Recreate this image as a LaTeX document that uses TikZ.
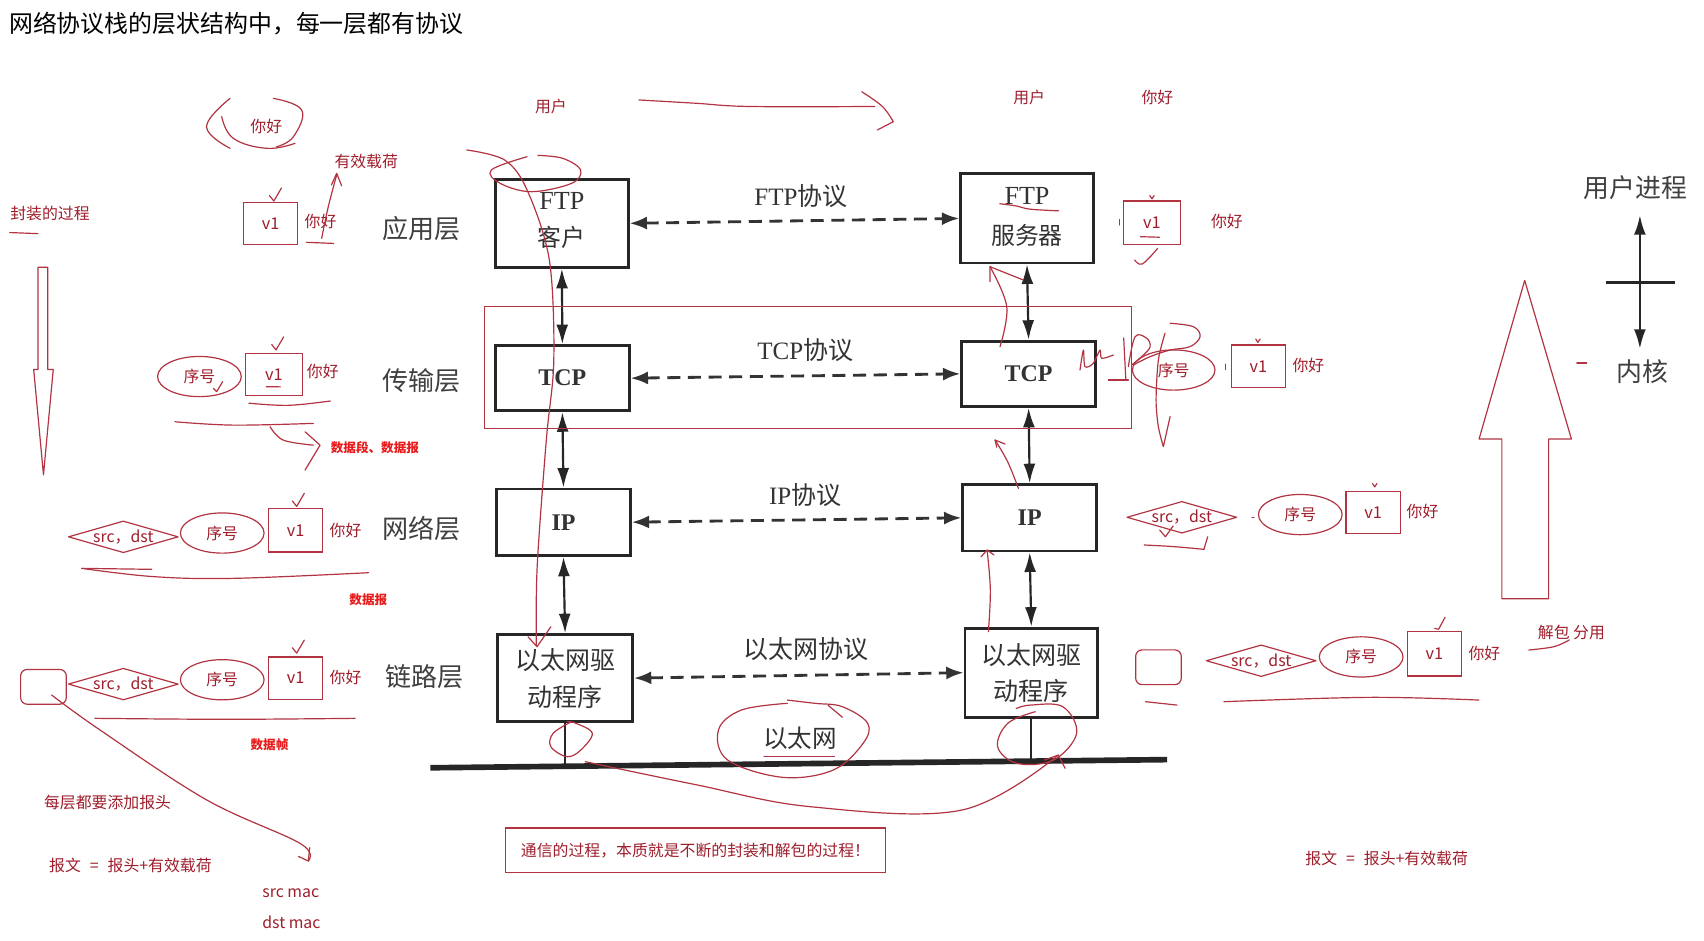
\documentclass[tikz,border=0pt]{standalone}
\usepackage{fontspec}
\setmainfont{Noto Sans CJK SC}
\newfontfamily\tms{Liberation Serif}
\usetikzlibrary{arrows.meta,shapes.geometric}
\definecolor{ink}{RGB}{178,52,66}
\definecolor{inktext}{RGB}{158,30,44}
\definecolor{brightred}{RGB}{232,28,28}
\newcommand\mydia[3]{\node[diabox] (#1) at (#2,#3) {src，dst};
  \draw[ink] (#1.west) -- (#1.north) -- (#1.east) -- (#1.south) -- cycle;}
\newcommand\mychk[2]{\draw[ink,shift={(#1,#2)}] (-4,-5) -- (0,0) -- (7,-12);}
\begin{document}
\begin{tikzpicture}[x=0.5pt,y=-0.5pt,
  ink/.style={draw=ink, line width=0.55pt, line cap=round, line join=round},
  rtext/.style={text=inktext, font=\fontsize{7.3}{9}\selectfont, inner sep=1pt},
  redlbl/.style={text=brightred, font=\bfseries\fontsize{5.8}{7}\selectfont, inner sep=1pt},
  stackbox/.style={draw=black!85, line width=1.3pt, inner sep=0pt, align=center, text=black!80},
  boxtext/.style={text=black!80, inner sep=0pt},
  layer/.style={font=\fontsize{12}{14}\selectfont, text=black!75, inner sep=1pt},
  proto/.style={font=\fontsize{11.5}{13}\selectfont, text=black!80, inner sep=1pt},
  dbl/.style={{Latex[length=9pt,width=5.5pt]}-{Latex[length=9pt,width=5.5pt]}, line width=1pt, draw=black!85},
  dsh/.style={{Latex[length=8pt,width=6pt]}-{Latex[length=8pt,width=6pt]}, line width=1.3pt, draw=black!80, dash pattern=on 6pt off 3.5pt},
  vone/.style={draw=ink, line width=0.55pt, minimum width=25pt, minimum height=19.5pt, inner sep=0pt, text=inktext, font=\fontsize{7.5}{9}\selectfont},
  seqell/.style={ellipse, draw=ink, line width=0.55pt, minimum width=38.5pt, minimum height=18.5pt, inner sep=0pt, text=inktext, font=\fontsize{7.3}{9}\selectfont},
  diabox/.style={rectangle, minimum width=50pt, minimum height=14pt, inner sep=0pt, text=inktext, font=\fontsize{7.3}{9}\selectfont},
  rrect/.style={draw=ink, line width=0.55pt, rounded corners=3pt, minimum width=21pt, minimum height=16pt, inner sep=0pt},
]
\useasboundingbox (0,0) rectangle (1568,865);
\fill[white] (0,0) rectangle (1568,865);

% title
\node[anchor=west, inner sep=0pt, font=\fontsize{11}{13}\selectfont] (title) at (8,22) {网络协议栈的层状结构中，每一层都有协议};

% ---------------- main stack diagram ----------------
\node[stackbox, minimum width=61pt, minimum height=40.5pt] (ftpc) at (517,205.5) {};
\node[boxtext, font=\tms\fontsize{12}{14}\selectfont] (ftpct1) at (517,185) {FTP};
\node[boxtext, font=\fontsize{11}{13}\selectfont] (ftpct2) at (517,218) {客户};
\node[stackbox, minimum width=61pt, minimum height=41pt] (ftps) at (945,201) {};
\node[boxtext, font=\tms\fontsize{12}{14}\selectfont] (ftpst1) at (945,180.5) {FTP};
\node[boxtext, font=\fontsize{11}{13}\selectfont] (ftpst2) at (945,216.5) {服务器};
\node[stackbox, minimum width=61.5pt, minimum height=30pt, font=\tms\bfseries\fontsize{11}{13}\selectfont] (tcpl) at (517.5,348) {TCP};
\node[stackbox, minimum width=61.5pt, minimum height=30pt, font=\tms\bfseries\fontsize{11}{13}\selectfont] (tcpr) at (946.5,344) {TCP};
\node[stackbox, minimum width=61.5pt, minimum height=30.5pt, font=\tms\bfseries\fontsize{11}{13}\selectfont] (ipl) at (518.5,480.5) {IP};
\node[stackbox, minimum width=61.5pt, minimum height=30.5pt, font=\tms\bfseries\fontsize{11}{13}\selectfont] (ipr) at (947.5,476.5) {IP};
\node[stackbox, minimum width=62pt, minimum height=40pt, font=\fontsize{11.5}{17}\selectfont] (ethl) at (520,624) {以太网驱\\动程序};
\node[stackbox, minimum width=61pt, minimum height=41pt, font=\fontsize{11.5}{16.5}\selectfont] (ethr) at (949,619) {以太网驱\\动程序};

\draw[dbl] (ftpc.south) -- (tcpl.north);
\draw[dbl] (tcpl.south) -- (ipl.north);
\draw[dbl] (ipl.south) -- (ethl.north);
\draw[dbl] (ftps.south) -- (tcpr.north);
\draw[dbl] (tcpr.south) -- (ipr.north);
\draw[dbl] (ipr.south) -- (ethr.north);

\draw[dsh] (ftpc.east) -- (ftps.west);
\draw[dsh] (tcpl.east) -- (tcpr.west);
\draw[dsh] (ipl.east) -- (ipr.west);
\draw[dsh] (ethl.east) -- (ethr.west);

\node[proto] (pftp) at (737,180) {{\tms FTP}协议};
\node[proto] (ptcp) at (741,322) {{\tms TCP}协议};
\node[proto] (pip) at (741,456) {{\tms IP}协议};
\node[proto] (peth) at (742,597) {以太网协议};

\node[layer] (lapp) at (388,210) {应用层};
\node[layer] (ltr) at (388,350) {传输层};
\node[layer] (lnet) at (388,486) {网络层};
\node[layer] (llink) at (391,623) {链路层};

\coordinate (busA) at (396,706.5);
\coordinate (busB) at (1074,699);
\draw[line width=2.6pt, draw=black!85] (busA) -- (busB);
\coordinate (dropL) at (520,705);
\coordinate (dropR) at (949,700.4);
\draw[line width=1pt, draw=black!85] (ethl.south) -- (dropL);
\draw[line width=1pt, draw=black!85] (ethr.south) -- (dropR);
\node[proto, font=\fontsize{11.3}{13}\selectfont] (ethnet) at (736,679) {以太网};

% user process / kernel
\node[layer, font=\fontsize{11.9}{14}\selectfont] (uproc) at (1505,173) {用户进程};
\node[layer, font=\fontsize{11.9}{14}\selectfont] (kern) at (1511,342) {内核};
\coordinate (ua) at (1509,198);
\coordinate (ub) at (1509,321);
\draw[dbl, line width=1.2pt] (ua) -- (ub);
\draw[line width=1.3pt, draw=black!85] (1478,260) -- (1541,260);

% ---------------- red annotations ----------------
\node[draw=ink, line width=0.6pt, minimum width=297.5pt, minimum height=56pt, inner sep=0pt] (tcpframe) at (743.5,338) {};

% top users
\node[rtext] (userL) at (507,98) {用户};
\node[rtext] (userR) at (947,90) {用户};
\node[rtext] (hiR) at (1065,90) {你好};
\draw[ink] plot[smooth, tension=0.6] coordinates {(588,92) (640,95) (690,98) (805,98)};
\draw[ink] plot[smooth, tension=0.6] coordinates {(793,84.4) (812,98) (822,112)} -- (807.4,119.6);

% left encapsulation column
\node[rtext] (hiTop) at (245,116) {你好};
\draw[ink] plot[smooth, tension=0.7] coordinates {(211.7,90.5) (190,116.6) (211.7,136.5)};
\draw[ink] plot[smooth, tension=0.7] coordinates {(251.5,90.5) (277.6,101.2) (270,125.8) (254.6,135)};
\draw[ink] plot[smooth, tension=0.7] coordinates {(204,107.3) (214.7,127.3) (245.4,136.5) (271.5,131.9)};

\node[rtext] (payload) at (337,149) {有效载荷};
\node[rtext] (encap) at (46,196) {封装的过程};
\draw[ink] (9,214) -- (35,215);
\draw[ink] (35,246) -- (44,246) -- (44,340) -- (49,340) -- (40,437) -- (31,340) -- (35,340) -- cycle;

% application layer packet (left)
\node[vone] (av1) at (249,205.5) {v1};
\node[rtext] (ahi) at (295,204) {你好};
\mychk{252}{185}
\draw[ink] plot[smooth, tension=0.6] coordinates {(296,219.3) (302.1,190.1) (309.8,161)};
\draw[ink] (305,170.2) -- (309.8,159.5) -- (314.4,171.1);
\draw[ink] (282,223) -- (307,224);

% transport layer packet (left)
\node[seqell] (tseq) at (183.5,346.5) {序号};
\node[vone, minimum width=26pt] (tv1) at (252,344.5) {v1};
\node[rtext] (thi) at (297,342) {你好};
\mychk{254}{322}
\draw[ink] (196.3,357.3) -- (199.4,360.4) -- (204.9,351.2);
\draw[ink] (245,355.8) -- (258,356);
\draw[ink] plot[smooth, tension=0.6] coordinates {(229,371) (265,373) (304,369)};
\draw[ink] plot[smooth, tension=0.6] coordinates {(161,388.1) (214.7,391.2) (288.3,389.6)};
\draw[ink] plot[smooth, tension=0.6] coordinates {(248.5,392.7) (260.7,405) (288.3,409.6)};
\draw[ink] (280.7,397.3) -- (294.5,409.6) -- (280.7,432.6);
\node[redlbl] (seglbl) at (345,412) {数据段、数据报};

% network layer packet (left)
\mydia{ndia}{113.5}{494}
\node[seqell] (nseq) at (204.5,490.5) {序号};
\node[vone, minimum height=20pt] (nv1) at (272,488) {v1};
\node[rtext] (nhi) at (318,488) {你好};
\mychk{273}{466}
\draw[ink] (75.2,523) -- (139.6,523.9);
\draw[ink] plot[smooth, tension=0.6] coordinates {(75.2,523) (141.1,530.6) (214.7,532.2) (339,527)};
\node[redlbl] (dglbl) at (339,552) {数据报};

% link layer packet (left)
\node[rrect] (lrr) at (40,632) {};
\mydia{ldia}{113.5}{629.5}
\node[seqell] (lseq) at (204.5,625.5) {序号};
\node[vone] (lv1) at (272,624) {v1};
\node[rtext] (lhi) at (318,623) {你好};
\mychk{273}{601}
\draw[ink] plot[smooth, tension=0.6] coordinates {(87.4,661) (208.6,661.9) (326.7,661)};
\node[redlbl] (frlbl) at (248,685) {数据帧};
\coordinate (macstart) at (47.5,639.5);
\coordinate (mactip) at (283.7,792.3);
\draw[ink] plot[smooth, tension=0.6] coordinates {(macstart) (92,671.7) (190.2,736.1) (276,776) (mactip)};
\draw[ink] (274.5,788) -- (mactip) -- (285,780);

\node[rtext] (eachhdr) at (99,738) {每层都要添加报头};
\node[rtext] (msgL) at (120,796) {报文\hspace{2.5pt} = \hspace{2.5pt}报头+有效载荷};
\node[rtext, anchor=west] (srcmac) at (239,822) {src mac};
\node[rtext, anchor=west] (dstmac) at (239,849) {dst mac};

% red strokes on main diagram
\draw[ink] plot[smooth, tension=0.6] coordinates {(485,144.2) (452.1,156.4) (460.3,168.7) (489,176.4) (526,168.7) (534.2,156.4) (517.8,145.7) (495,143)};
\draw[ink] plot[smooth, tension=0.55] coordinates {(429.5,138) (464.3,147.2) (485,174.8) (505.5,239.3) (509.6,331.3) (502.7,404.9) (494.3,521.5) (493.5,594)};
\draw[ink] (485.8,585.9) -- (494.2,595.1) -- (506.9,576.7);

\draw[ink] plot[smooth, tension=0.6] coordinates {(920,187.5) (935,189.5) (948,192.5) (974,194)};
\draw[ink] plot[smooth, tension=0.6] coordinates {(920.2,319) (926.4,282.2) (911,245.4)};
\draw[ink] (911,259.2) -- (911,245.4) -- (941.7,257.7);
\draw[ink] plot[smooth, tension=0.6] coordinates {(937.1,449.4) (927.3,425) (915.6,404.9)};
\draw[ink] (917.2,411.5) -- (915.6,404.9) -- (924.8,408.6);
\draw[ink] plot[smooth, tension=0.6] coordinates {(909.5,581.3) (911.3,542.9) (908.3,506.1)};
\draw[ink] (902.8,512.3) -- (908.3,506.1) -- (914.6,510.7);

% ethernet circles and the bottom curve
\draw[ink] plot[smooth, tension=0.6] coordinates {(525.9,664.1) (509,674.8) (506.9,687.1) (521.7,696.3) (534.4,690.2) (545,674.8) (530.1,665.6) (522,664)};
\draw[ink] plot[smooth, tension=0.6] coordinates {(724.5,647.2) (682.2,653.4) (661.1,671.8) (669.6,699.4) (720.3,715.3) (766.7,708.6) (794.2,684) (798.4,665.6) (775.2,650.3) (749.9,647.2) (724.5,644.2)};
\draw[ink] (762,649) -- (775.2,660);
\draw[ink] (703,696) -- (768,696);
\draw[ink] plot[smooth, tension=0.6] coordinates {(952.6,654.9) (927.3,665.6) (918,687.1) (935.8,702.4) (969.5,699.4) (990.7,674.8) (978,650.3) (948.4,648.8) (935,652)};
\draw[ink] plot[smooth, tension=0.6] coordinates {(538.6,700.9) (640,722) (745.6,742.3) (885,745.4) (973.8,694.8)};
\draw[ink] (961,699.4) -- (973.8,694.8) -- (980.1,707);

\node[draw=ink, line width=0.6pt, minimum width=175pt, minimum height=20.5pt, inner sep=0pt, text=inktext, font=\fontsize{7.3}{9}\selectfont] (essence) at (640,782.5) {通信的过程，本质就是不断的封装和解包的过程！};

% ---------------- right side (decapsulation) ----------------
\node[vone, minimum width=26pt, minimum height=20pt] (rav1) at (1060,205) {v1};
\node[rtext] (rahi) at (1129,204) {你好};
\draw[ink] (1049.4,217.8) -- (1067,218.3);
\draw[ink] (1058,180) -- (1060,183) -- (1062,180);
\draw[ink] (1030,202) -- (1030,207);
\draw[ink] plot[smooth, tension=0.6] coordinates {(1044.1,239.3) (1051.2,242.9) (1065.3,228.5)};

% scribble near right TCP
\draw[ink] plot[smooth, tension=0.5] coordinates {(993.8,340.5) (996.9,322.1) (998.4,337.4) (1006.1,334.3) (1012.2,322.1) (1013.8,329.7) (1024.5,326.7)};
\draw[ink] (1034,311) -- (1036,350);
\draw[ink] (1019.9,349.7) -- (1038.3,349.7);
\draw[ink] plot[smooth, tension=0.6] coordinates {(1038.3,337.4) (1044.5,309.8) (1055.2,311.3) (1058.3,319) (1052.1,326.7) (1041.4,335.9)};
\draw[ink] plot[smooth, tension=0.6] coordinates {(1042.9,335.9) (1058.3,328.2) (1076.7,322.1) (1095,319) (1104.3,309.8) (1098.1,300.6) (1076.7,297.5)};
\draw[ink] plot[smooth, tension=0.5] coordinates {(1072,306.7) (1065.9,331.3) (1063.8,368.1) (1065.9,392.6) (1070.5,411)} -- (1076.7,383.4);

\node[seqell, minimum width=38pt] (rtseq) at (1080,340.5) {序号};
\node[vone] (rtv1) at (1158,337) {v1};
\node[rtext] (rthi) at (1204,336) {你好};
\draw[ink] (1155.5,312) -- (1157.4,315) -- (1159.5,312);
\draw[ink] (1128,335) -- (1128,340);

\mydia{rndia}{1087.5}{476}
\node[seqell] (rnseq) at (1196.5,473.5) {序号};
\node[vone] (rnv1) at (1263.5,471.5) {v1};
\node[rtext] (rnhi) at (1309,471) {你好};
\draw[ink] (1263,445) -- (1265,448) -- (1267,445);
\draw[ink] (1152,476) -- (1154,476);
\draw[ink] (1067.1,487.7) -- (1072.4,493.9) -- (1079.5,484);
\draw[ink] plot[smooth, tension=0.6] coordinates {(1052.9,501.5) (1080,503) (1107.8,505.5)};
\draw[ink] (1107.8,505.5) -- (1111.3,493.9);

\node[rrect] (rlrr) at (1066,614) {};
\mydia{rldia}{1160.5}{608}
\node[seqell] (rlseq) at (1252.5,604.5) {序号};
\node[vone, minimum height=20.5pt] (rlv1) at (1320,601.5) {v1};
\node[rtext] (rlhi) at (1366,601) {你好};
\draw[ink] (1320.2,578.2) -- (1323.7,579.1) -- (1329.7,568.1);
\draw[ink] (1054,645.7) -- (1083,648.8);
\draw[ink] plot[smooth, tension=0.6] coordinates {(1126.2,645.7) (1260,641.7) (1360.8,644.2)};

\node[rtext] (unpack) at (1446,582) {解包 分用};
\draw[ink] plot[smooth, tension=0.6] coordinates {(1406.8,598.1) (1429.8,595.1) (1444,588.9)};
\node[rtext] (msgR) at (1276,790) {报文\hspace{2.5pt} = \hspace{2.5pt}报头+有效载荷};

% big hollow up arrow
\draw[ink] (1382,551) -- (1382,404) -- (1361,404) -- (1403,258) -- (1446,404) -- (1425,404) -- (1425,551) -- cycle;
\draw[ink] (1451,334) -- (1460,334);
\end{tikzpicture}
\end{document}
